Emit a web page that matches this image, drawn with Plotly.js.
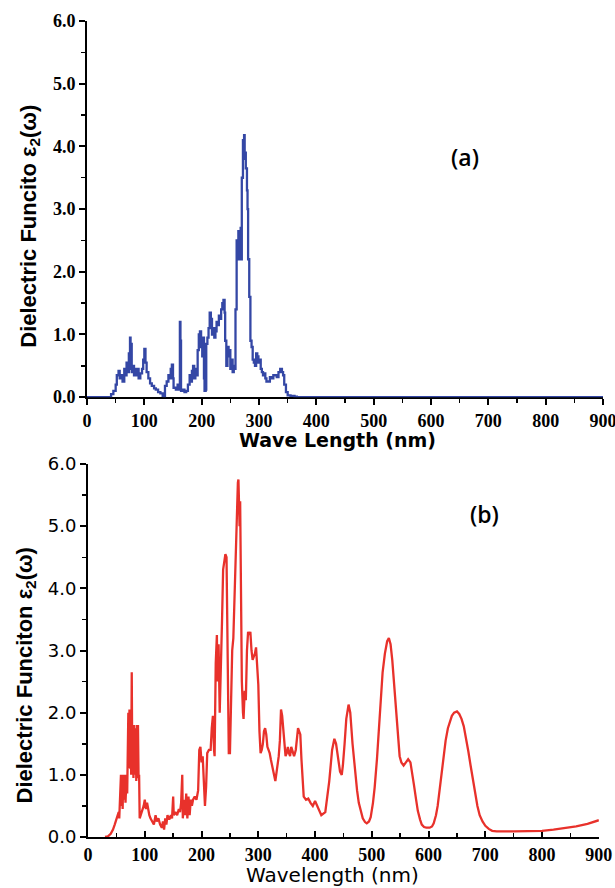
<!DOCTYPE html>
<html>
<head>
<meta charset="utf-8">
<script src="https://cdn.plot.ly/plotly-3.0.1.min.js"></script>
<style>html,body{margin:0;padding:0;background:#fff;}#chart{width:615px;height:888px;}</style>
</head>
<body>
<div id="chart"></div>
<script>
// Panel (a): wavelength (nm) and epsilon_2
const waveA = [0,38,42,46,50,52,55,57,60,62,65,67,69,71,73,74,75,76,77,78,80,82,84,86,88,90,93,96,98,100,102,104,107,110,113,117,120,124,128,132,134,136,139,142,144,146,148,150,151,155,158,160,162,163,164,167,170,173,176,179,181,183,185,187,189,191,193,195,197,199,201,203,204,205,207,208,210,212,214,216,218,220,222,224,226,228,230,232,234,236,238,240,241,243,245,247,249,250,252,254,256,258,259,261,263,264,266,268,269,270,272,273,274,275,277,279,280,281,283,285,287,289,291,293,295,297,299,301,303,305,307,309,311,313,316,319,322,325,328,331,334,337,340,342,344,347,350,355,362,366,900];
const epsA = [0,0,0.05,0.1,0.2,0.35,0.42,0.3,0.35,0.25,0.45,0.35,0.55,0.4,0.7,0.45,0.95,0.6,0.85,0.4,0.5,0.35,0.45,0.35,0.45,0.3,0.38,0.45,0.6,0.77,0.55,0.4,0.3,0.22,0.18,0.14,0.12,0.08,0.06,0.02,0.01,0.18,0.25,0.35,0.3,0.45,0.52,0.3,0.15,0.12,0.2,0.12,1.2,0.9,0.1,0.12,0.08,0.1,0.2,0.35,0.25,0.42,0.5,0.3,0.45,0.35,0.75,1.0,1.05,0.8,0.65,0.95,0.3,0.1,0.12,0.85,0.95,1.1,1.35,1.25,1.0,1.1,0.95,1.05,1.2,1.15,1.3,1.25,1.4,1.5,1.55,1.35,0.9,0.5,0.8,0.65,0.75,0.45,0.6,0.4,0.5,0.45,1.4,2.5,2.2,2.65,2.2,2.7,2.2,3.5,4.1,3.8,4.18,3.9,3.65,3.3,3.0,2.2,1.6,0.9,0.8,0.6,0.55,0.5,0.7,0.65,0.55,0.6,0.45,0.4,0.35,0.38,0.3,0.25,0.25,0.32,0.3,0.35,0.35,0.32,0.4,0.45,0.4,0.35,0.2,0.08,0.03,0.02,0.01,0,0];

// Panel (b): wavelength (nm) and epsilon_2
const waveB = [30,35,40,44,47,50,52,54,55,57,58,59,60,61,62,63,65,66,68,69,70,71,72,73,74,75,76,77,78,79,80,81,82,84,85,86,87,88,89,90,91,93,96,98,100,102,104,106,108,110,113,116,119,121,124,127,130,132,134,136,138,140,143,146,148,150,151,154,157,160,162,164,166,167,169,171,173,175,177,179,181,183,185,188,191,194,196,198,200,202,204,206,208,210,213,216,218,220,222,223,225,227,228,230,232,234,236,238,240,242,244,245,247,248,250,252,254,256,258,260,262,264,265,266,267,268,270,271,273,274,276,278,280,282,284,286,288,290,292,294,296,298,300,302,304,306,308,310,312,314,316,318,320,322,325,328,330,333,336,338,340,342,344,346,348,350,352,354,356,358,360,363,366,368,370,372,374,376,378,380,384,388,392,396,400,404,411,418,425,430,434,437,440,444,447,449,452,455,459,462,466,470,474,477,481,484,488,491,495,498,502,505,509,512,516,519,523,527,530,533,536,540,543,546,549,552,556,560,564,568,571,574,578,581,585,588,592,596,602,606,609,613,616,620,623,627,630,634,637,641,645,650,654,658,662,666,670,674,678,682,686,690,695,700,706,712,720,750,780,800,820,840,860,880,900];
const epsB = [0,0.01,0.05,0.12,0.2,0.3,0.35,0.4,0.3,0.7,1.0,0.5,0.85,0.45,1.0,0.6,1.0,0.55,1.0,0.7,1.5,2.0,1.1,2.05,1.2,1.9,1.0,2.65,1.1,1.7,0.95,1.8,1.0,1.75,0.9,1.8,1.0,1.8,0.95,1.0,0.3,0.35,0.45,0.5,0.6,0.45,0.55,0.4,0.35,0.3,0.25,0.2,0.35,0.25,0.3,0.2,0.15,0.25,0.12,0.3,0.2,0.35,0.28,0.35,0.3,0.65,0.35,0.4,0.35,0.45,0.4,0.55,1.0,0.3,0.6,0.35,0.7,0.3,0.65,0.35,0.6,0.5,0.6,0.65,0.6,0.75,1.4,1.45,1.2,1.3,0.9,0.5,0.8,1.35,1.4,1.4,1.75,1.95,1.4,1.3,2.8,3.25,2.5,3.1,2.0,3.0,3.45,4.3,4.4,4.55,4.5,3.5,2.0,1.35,1.35,2.0,3.0,3.2,3.9,4.5,5.0,5.7,5.75,5.5,5.0,5.4,3.9,2.5,2.0,1.9,2.35,2.2,3.0,3.3,3.25,3.3,3.0,2.85,2.9,2.95,3.05,2.8,2.45,1.7,1.35,1.4,1.5,1.7,1.75,1.65,1.45,1.4,1.35,1.25,1.1,0.95,0.9,1.1,1.3,1.55,2.05,1.95,1.7,1.4,1.3,1.35,1.45,1.35,1.3,1.45,1.4,1.3,1.4,1.55,1.75,1.7,1.65,1.25,0.85,0.65,0.6,0.62,0.55,0.5,0.58,0.5,0.35,0.4,0.9,1.4,1.58,1.5,1.3,1.05,1.0,1.15,1.5,1.9,2.13,2.0,1.5,1.1,0.75,0.55,0.38,0.3,0.24,0.22,0.25,0.32,0.55,0.8,1.25,1.7,2.2,2.65,2.95,3.15,3.2,3.1,2.85,2.4,2.0,1.6,1.3,1.2,1.15,1.2,1.25,1.2,1.05,0.85,0.6,0.42,0.28,0.2,0.16,0.15,0.15,0.17,0.22,0.35,0.5,0.8,1.05,1.35,1.55,1.75,1.85,1.95,2.0,2.02,1.98,1.9,1.78,1.6,1.38,1.15,0.92,0.7,0.5,0.35,0.25,0.18,0.13,0.1,0.09,0.09,0.09,0.1,0.12,0.14,0.17,0.21,0.27];

const xTicks = [0,100,200,300,400,500,600,700,800,900];
const yTicks = [0,1,2,3,4,5,6];

const serifBold = {family:'Liberation Serif, Times New Roman, serif', size:18, color:'#000', weight:'bold'};
const sansTick = {family:'DejaVu Sans, sans-serif', size:18, color:'#000'};

function xAxis(domain, anchor, ticksDir){
  return {domain:domain, anchor:anchor, range:[0,900], tickvals:xTicks, ticktext:xTicks.map(String),
    showline:true, linecolor:'#000', linewidth:2, ticks:ticksDir, ticklen:6, tickwidth:2, tickcolor:'#000',
    minor:{dtick:50, tick0:0, ticks:ticksDir, ticklen:4, tickwidth:1.5, tickcolor:'#000'},
    showgrid:false, zeroline:false, tickfont:serifBold, ticklabeloverflow:'allow',
    layer:'below traces', fixedrange:true, automargin:false};
}
function yAxis(domain, anchor, font){
  return {domain:domain, anchor:anchor, range:[0,6], tickvals:yTicks, ticktext:yTicks.map(v=>v.toFixed(1)),
    showline:true, linecolor:'#000', linewidth:2, ticks:'outside', ticklen:6, tickwidth:2, tickcolor:'#000',
    minor:{dtick:0.5, tick0:0, ticks:'outside', ticklen:4, tickwidth:1.5, tickcolor:'#000'},
    showgrid:false, zeroline:false, tickfont:font, ticklabeloverflow:'allow',
    layer:'below traces', fixedrange:true, automargin:false};
}

const traces = [
  {x:waveA, y:epsA, type:'scatter', mode:'lines', xaxis:'x', yaxis:'y',
   line:{color:'#3447a5', width:2.3, shape:'hv'}, showlegend:false},
  {x:waveB, y:epsB, type:'scatter', mode:'lines', xaxis:'x2', yaxis:'y2',
   line:{color:'#e8312b', width:2.3, shape:'linear'}, showlegend:false}
];

const layout = {
  width:615, height:888,
  margin:{l:87, r:12, t:21, b:51},
  paper_bgcolor:'#fff', plot_bgcolor:'#fff',
  showlegend:false,
  xaxis: xAxis([0,1],'y','outside'),
  yaxis: yAxis([0.539,1],'x', serifBold),
  xaxis2: xAxis([0.002,0.992],'y2','inside'),
  yaxis2: yAxis([0,0.4571],'x2', sansTick),
  annotations:[
    {text:'Dielectric Funcito ε<sub>2</sub>(ω)', xref:'paper', yref:'y', x:-0.111, y:2.73,
     xanchor:'center', yanchor:'middle', textangle:-90, showarrow:false,
     font:{family:'Liberation Sans, Arial, sans-serif', size:22, weight:'bold', color:'#000'}},
    {text:'Dielectric Funciton ε<sub>2</sub>(ω)', xref:'paper', yref:'y2', x:-0.118, y:2.6,
     xanchor:'center', yanchor:'middle', textangle:-90, showarrow:false,
     font:{family:'Liberation Sans, Arial, sans-serif', size:22, weight:'bold', color:'#000'}},
    {text:'Wave Length (nm)', xref:'paper', yref:'paper', x:0.4864, y:0.4865,
     xanchor:'center', yanchor:'middle', showarrow:false,
     font:{family:'DejaVu Sans, sans-serif', size:19, weight:'bold', color:'#000'}},
    {text:'Wavelength (nm)', xref:'paper', yref:'paper', x:0.4767, y:-0.0466,
     xanchor:'center', yanchor:'middle', showarrow:false,
     font:{family:'DejaVu Sans, sans-serif', size:20, color:'#000'}},
    {text:'(a)', xref:'x', yref:'y', x:659, y:3.83, xanchor:'center', yanchor:'middle', showarrow:false,
     font:{family:'Open Sans, DejaVu Sans, sans-serif', size:23, weight:600, color:'#000'}},
    {text:'(b)', xref:'x2', yref:'y2', x:699, y:5.2, xanchor:'center', yanchor:'middle', showarrow:false,
     font:{family:'Open Sans, DejaVu Sans, sans-serif', size:23, weight:600, color:'#000'}}
  ]
};

Plotly.newPlot('chart', traces, layout, {staticPlot:true, displayModeBar:false});
</script>
</body>
</html>
